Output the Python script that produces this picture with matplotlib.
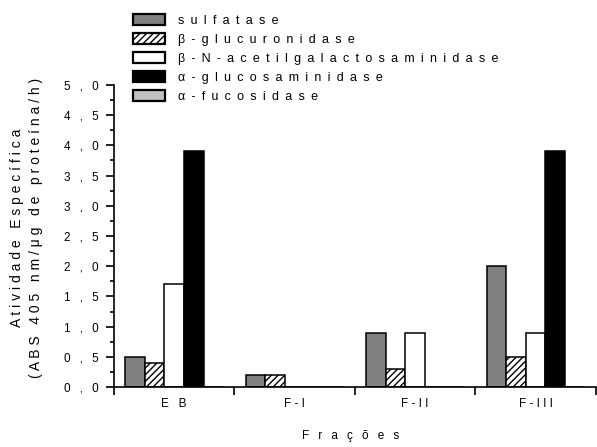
import matplotlib.pyplot as plt
import numpy as np
from matplotlib.ticker import FixedLocator, MultipleLocator

plt.rcParams["font.family"] = ["Liberation Sans", "DejaVu Sans"]
plt.rcParams["hatch.linewidth"] = 1.0

EN = "\u2002"


def spaced(text, gap=" "):
    # the original uses wide letter spacing
    return gap.join(text)


FRACOES = ["E B", "F-I", "F-II", "F-III"]
ENZIMAS = [
    "sulfatase",
    "β-glucuronidase",
    "β-N-acetilgalactosaminidase",
    "α-glucosaminidase",
    "α-fucosidase",
]
SULFATASE = [0.5, 0.2, 0.9, 2.0]
GLUCURONIDASE = [0.4, 0.2, 0.3, 0.5]
ACETILGALACTOSAMINIDASE = [1.7, 0.0, 0.9, 0.9]
GLUCOSAMINIDASE = [3.9, 0.0, 0.0, 3.9]
FUCOSIDASE = [0.0, 0.0, 0.0, 0.0]
Y_TICKS = [0.0, 0.5, 1.0, 1.5, 2.0, 2.5, 3.0, 3.5, 4.0, 4.5, 5.0]

series = [SULFATASE, GLUCURONIDASE, ACETILGALACTOSAMINIDASE, GLUCOSAMINIDASE, FUCOSIDASE]
colors = ["#808080", "white", "white", "black", "#c0c0c0"]
hatches = [None, "/////", None, None, None]

fig = plt.figure(figsize=(5.97, 4.47), dpi=100)
ax = fig.add_axes([0.191, 0.134, 0.807, 0.676])

width = 0.162
centers = np.arange(len(FRACOES)) + 0.5
for i, values in enumerate(series):
    ax.bar(centers + (i - 2) * width, values, width, color=colors[i],
           hatch=hatches[i], edgecolor="black", linewidth=1.1,
           label=spaced(ENZIMAS[i], EN))

ax.set_xlim(0, 4)
ax.set_ylim(0, 5)
ax.spines["top"].set_visible(False)
ax.spines["right"].set_visible(False)
ax.spines["left"].set_linewidth(1.2)
ax.spines["bottom"].set_linewidth(1.2)

# y axis, decimal comma
ax.set_yticks(Y_TICKS)
ax.set_yticklabels([f"{int(v)}{EN} ,{EN} {round(v % 1 * 10)}" for v in Y_TICKS])
ax.yaxis.set_minor_locator(MultipleLocator(0.25))
ax.tick_params(axis="y", which="major", length=6, width=1.2, labelsize=8.5, pad=5)
ax.tick_params(axis="y", which="minor", length=3, width=1.2)

# x axis: ticks on the group borders, labels in the middle
ax.xaxis.set_major_locator(FixedLocator([0, 1, 2, 3, 4]))
ax.set_xticklabels([])
ax.xaxis.set_minor_locator(FixedLocator(centers))
ax.set_xticklabels([spaced(f) for f in FRACOES], minor=True)
ax.tick_params(axis="x", which="major", length=6, width=1.2)
ax.tick_params(axis="x", which="minor", length=0, labelsize=8.5, pad=8)

ax.set_xlabel(spaced("Frações", EN + " "), fontsize=8.5)
ax.xaxis.set_label_coords(0.492, -0.142)
ax.set_ylabel(spaced("Atividade Específica") + "\n" + spaced("(ABS 405 nm/μg de proteína/h)"),
              fontsize=10, linespacing=1.45)
ax.yaxis.set_label_coords(-0.147, 0.526)

leg = ax.legend(loc="upper left", bbox_to_anchor=(0.03, 1.252), frameon=False,
                fontsize=9, handlelength=2.5, handleheight=1.05, labelspacing=0.47,
                handletextpad=1.1, borderaxespad=0)
for h in leg.legend_handles:
    h.set_linewidth(1.6)

fig.savefig("out.png", dpi=100)
